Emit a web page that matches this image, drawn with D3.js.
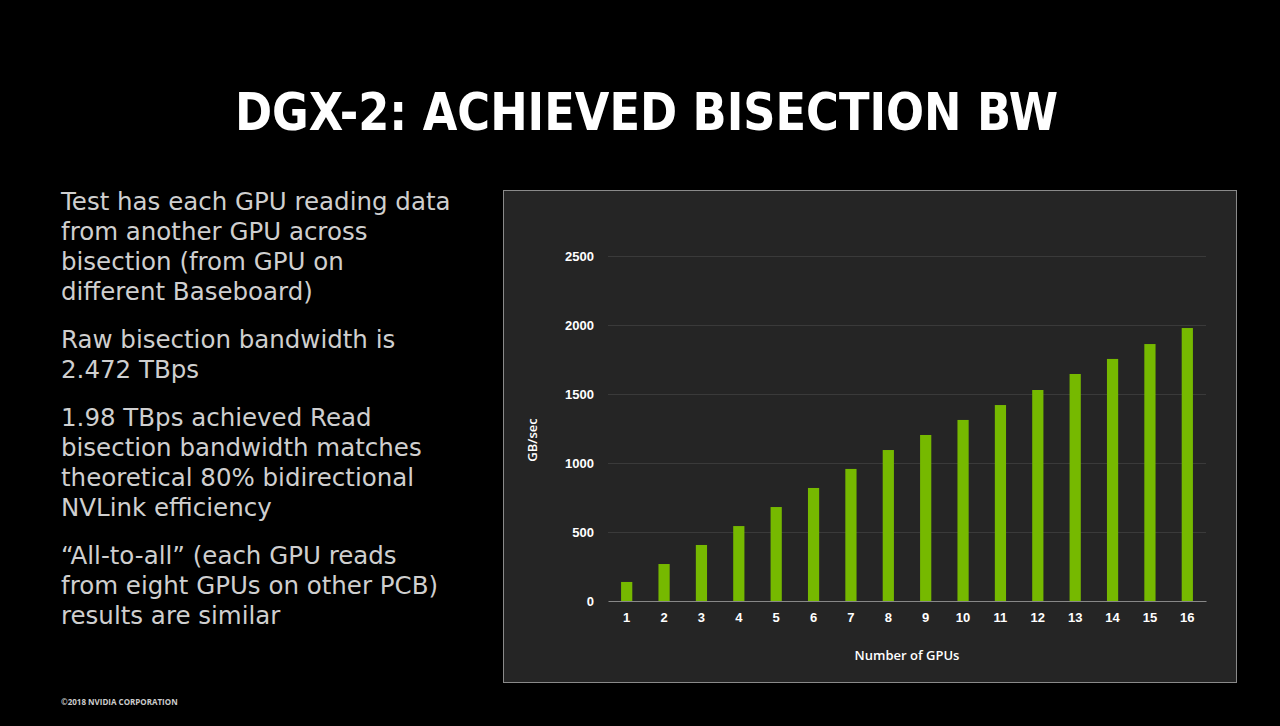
<!DOCTYPE html>
<html><head><meta charset="utf-8">
<script src="https://cdn.jsdelivr.net/npm/d3@7"></script>
<style>body{margin:0;background:#000;}svg{display:block;font-family:"Open Sans",sans-serif;}</style>
</head><body>
<script>
// GPUs and measured read bandwidth (GB/sec)
var gpus = ["1","2","3","4","5","6","7","8","9","10","11","12","13","14","15","16"];
var bandwidth = [138,268,406,543,681,819,957,1094,1203,1312,1420,1529,1645,1754,1862,1978];
var yTicks = [0,500,1000,1500,2000,2500];

var bullets = [
  ["Test has each GPU reading data","from another GPU across","bisection (from GPU on","different Baseboard)"],
  ["Raw bisection bandwidth is","2.472 TBps"],
  ["1.98 TBps achieved Read","bisection bandwidth matches","theoretical 80% bidirectional","NVLink efficiency"],
  ["\u201cAll-to-all\u201d (each GPU reads","from eight GPUs on other PCB)","results are similar"]
];

var svg = d3.select("body").append("svg").attr("width",1280).attr("height",726);
svg.append("rect").attr("width",1280).attr("height",726).attr("fill","#000");

svg.append("text").attr("x",235).attr("y",130)
  .attr("fill","#fff").attr("font-size",52).attr("font-weight","bold")
  .attr("textLength",823).attr("lengthAdjust","spacingAndGlyphs")
  .attr("font-family","'DejaVu Sans',sans-serif").text("DGX-2: ACHIEVED BISECTION BW");

var ty = 210;
bullets.forEach(function(b){
  b.forEach(function(line){
    svg.append("text").attr("x",61).attr("y",ty).attr("fill","#cfcfcf")
      .attr("font-size",24.5).attr("font-family","'DejaVu Sans',sans-serif").text(line);
    ty += 30;
  });
  ty += 18;
});

svg.append("text").attr("x",61).attr("y",705).attr("fill","#ccc").attr("font-size",8).attr("font-weight","bold")
  .text("\u00a92018 NVIDIA CORPORATION");

// chart panel
svg.append("rect").attr("x",503.5).attr("y",190.5).attr("width",733).attr("height",492)
  .attr("fill","#252525").attr("stroke","#8a8a8a");

var x = d3.scaleBand().domain(gpus).range([608,1206]).paddingInner(0.7).paddingOuter(0.35);
var y = d3.scaleLinear().domain([0,2500]).range([601,256]);

var g = svg.append("g");
g.selectAll(".grid").data(yTicks.slice(1)).enter().append("line")
  .attr("x1",608).attr("x2",1206).attr("y1",function(d){return y(d)+0.5;}).attr("y2",function(d){return y(d)+0.5;})
  .attr("stroke","#3a3a3a");

g.selectAll(".bar").data(bandwidth).enter().append("rect")
  .attr("x",function(d,i){return x(gpus[i]);}).attr("width",x.bandwidth())
  .attr("y",function(d){return y(d);}).attr("height",function(d){return y(0)-y(d);})
  .attr("fill","#76b900");

var ya = g.append("g").attr("transform","translate(608,0)")
  .call(d3.axisLeft(y).tickValues(yTicks).tickFormat(d3.format("d")).tickSize(0).tickPadding(14));
ya.select(".domain").remove();
ya.selectAll("text").attr("fill","#fff").attr("font-size",13).attr("font-weight",600);

var xa = g.append("g").attr("transform","translate(0,601)").call(d3.axisBottom(x).tickSize(0).tickPadding(12));
xa.select(".domain").attr("stroke","#888");
xa.selectAll("text").attr("fill","#fff").attr("font-size",13).attr("font-weight",600);

svg.append("text").attr("x",907).attr("y",660).attr("text-anchor","middle").attr("fill","#fff")
  .attr("font-size",13).attr("font-weight",600).text("Number of GPUs");
svg.append("text").attr("transform","translate(537,440) rotate(-90)").attr("text-anchor","middle")
  .attr("fill","#fff").attr("font-size",13).attr("font-weight",600).text("GB/sec");
</script>
</body></html>
